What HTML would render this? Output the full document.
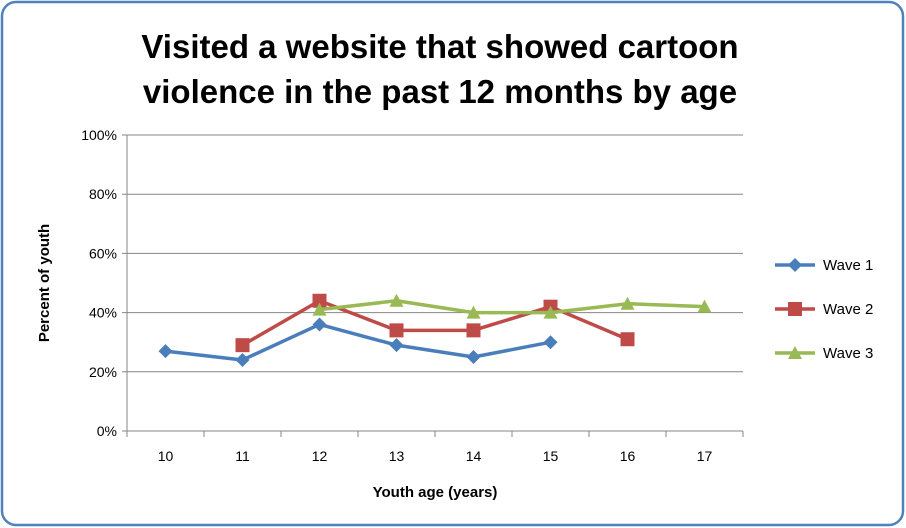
<!DOCTYPE html>
<html><head><meta charset="utf-8"><style>
html,body{margin:0;padding:0;background:#fff;}
svg{display:block;font-family:"Liberation Sans",sans-serif;}
</style></head><body>
<svg id="chart" width="906" height="528" viewBox="0 0 906 528">
<rect x="2" y="2" width="901" height="523" rx="14" fill="#fff" stroke="#4F81BD" stroke-width="2.5"/>
<text x="440" y="58" text-anchor="middle" font-size="33" font-weight="bold" fill="#000">Visited a website that showed cartoon</text>
<text x="440" y="103" text-anchor="middle" font-size="33" font-weight="bold" fill="#000">violence in the past 12 months by age</text>
<g id="grid"></g><g id="axes"></g><g id="series"></g><g id="legend"></g>
<text x="435" y="497" text-anchor="middle" font-size="15" font-weight="bold">Youth age (years)</text>
<text transform="translate(49,283) rotate(-90)" text-anchor="middle" font-size="15" font-weight="bold">Percent of youth</text>
</svg>
<script>
const categories=["10","11","12","13","14","15","16","17"];
const yTicks=[0,20,40,60,80,100];
const wave1=[27,24,36,29,25,30,null,null];
const wave2=[null,29,44,34,34,42,31,null];
const wave3=[null,null,41,44,40,40,43,42];
const seriesNames=["Wave 1","Wave 2","Wave 3"];
const NS="http://www.w3.org/2000/svg";
const X0=127,X1=743,Y0=431,Y1=135;
const step=(X1-X0)/categories.length;
function xs(i){return X0+step*(i+0.5);}
function ys(v){return Y0-(v/100)*(Y0-Y1);}
function mk(tag,attrs,parent){const e=document.createElementNS(NS,tag);for(const k in attrs)e.setAttribute(k,attrs[k]);parent.appendChild(e);return e;}
const grid=document.getElementById('grid'),axes=document.getElementById('axes'),ser=document.getElementById('series'),leg=document.getElementById('legend');
yTicks.forEach(t=>{
  const l=mk('line',{x1:X0-5,x2:X1,y1:ys(t),y2:ys(t),stroke:'#868686','stroke-width':1},grid);
  
  
  const tx=mk('text',{x:X0-10,y:ys(t)+5,'text-anchor':'end','font-size':14,fill:'#000'},axes);
  tx.textContent=t+'%';
  
  
});
const ya=mk('line',{x1:X0,x2:X0,y1:Y1,y2:Y0,stroke:'#868686'},axes);


for(let i=0;i<=categories.length;i++){
  const tk=mk('line',{x1:X0+step*i,x2:X0+step*i,y1:Y0,y2:Y0+6,stroke:'#868686'},axes);
  
  
}
categories.forEach((c,i)=>{
  const tx=mk('text',{x:xs(i),y:Y0+30,'text-anchor':'middle','font-size':14},axes);
  tx.textContent=c;
  
  
});
const colors=["#4A7EBB","#BE4B48","#98B954"];
function marker(type,x,y,color,parent){
  let e;
  if(type===0) e=mk('polygon',{points:`${x},${y-7} ${x+7},${y} ${x},${y+7} ${x-7},${y}`,fill:color},parent);
  else if(type===1) e=mk('rect',{x:x-7,y:y-7,width:14,height:14,fill:color},parent);
  else e=mk('polygon',{points:`${x},${y-7} ${x+7},${y+6} ${x-7},${y+6}`,fill:color},parent);
  return e;
}
[wave1,wave2,wave3].forEach((data,s)=>{
  const g=mk('g',{},ser);
  
  
  const pts=[];data.forEach((v,i)=>{if(v!==null)pts.push(xs(i)+','+ys(v));});
  const pl=mk('polyline',{points:pts.join(' '),fill:'none',stroke:colors[s],'stroke-width':3.5,'stroke-linejoin':'round'},g);
  
  
  data.forEach((v,i)=>{if(v===null)return;
    const m=marker(s,xs(i),ys(v),colors[s],g);
    
    
  });
  const ly=265+44*s;
  const lg=mk('g',{},leg);
  
  
  mk('line',{x1:775,x2:815,y1:ly,y2:ly,stroke:colors[s],'stroke-width':3.5},lg);
  marker(s,795,ly,colors[s],lg);
  const t=mk('text',{x:823,y:ly+5,'font-size':15},lg);
  t.textContent=seriesNames[s];
});
</script>
</body></html>
